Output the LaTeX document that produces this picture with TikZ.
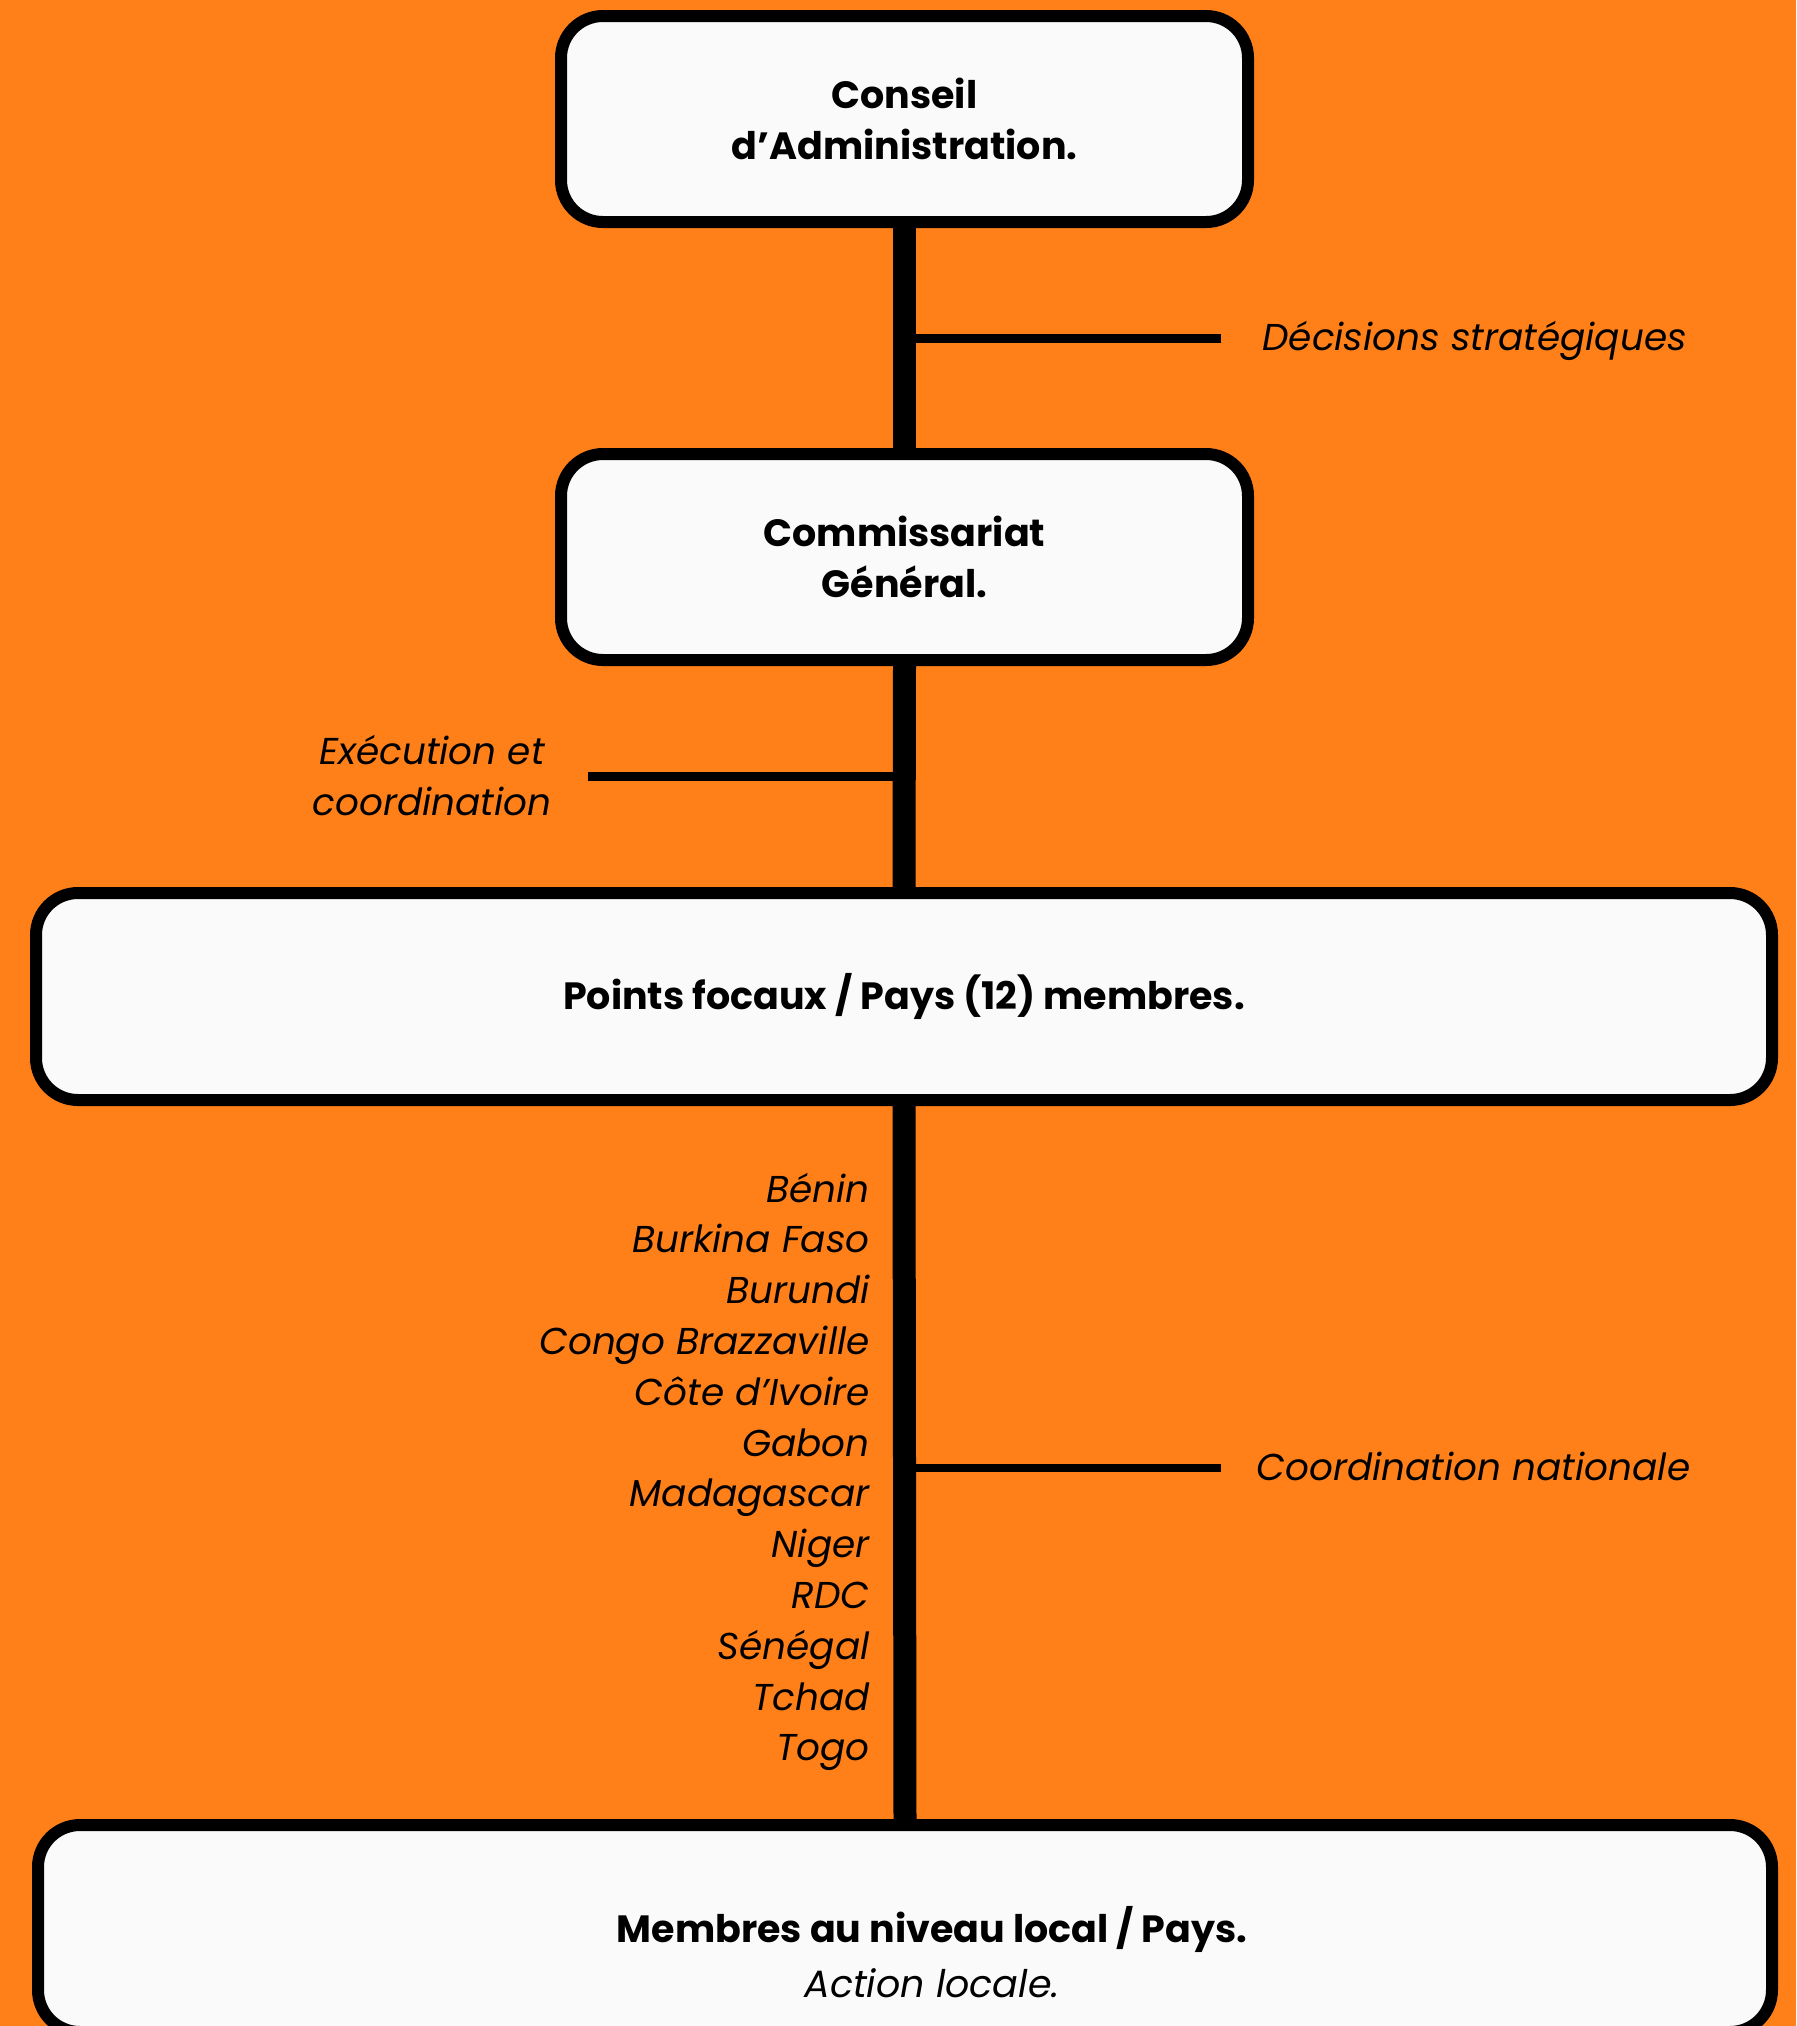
\documentclass[tikz,border=0pt]{standalone}
\usepackage{fontspec}
\setmainfont{Poppins}
\definecolor{bgorange}{RGB}{255,127,25}
\definecolor{boxwhite}{RGB}{250,250,250}
\begin{document}
\begin{tikzpicture}[x=0.5pt,y=-0.5pt,
  orgbox/.style={draw=black, fill=boxwhite, line width=6pt, rounded corners=21pt,
    inner sep=0pt, align=center, font=\fontsize{19}{25.5}\selectfont\bfseries},
  stem/.style={line width=11.5pt, black},
  branch/.style={line width=4.25pt, black},
  note/.style={inner sep=0pt, font=\fontsize{18.7}{25.4}\selectfont\itshape}
]
\fill[bgorange] (0,0) rectangle (1796,2026);
\useasboundingbox (0,0) rectangle (1796,2026);

\node[orgbox, minimum width=343.5pt, minimum height=103pt] (b1) at (904.5,119)
  {Conseil\\d’Administration.};
\node[orgbox, minimum width=343.5pt, minimum height=103pt] (b2) at (904.5,557)
  {Commissariat\\Général.};
\node[orgbox, minimum width=868pt, minimum height=103.5pt] (b3) at (904,996.5)
  {Points focaux / Pays (12) membres.};
\node[orgbox, minimum width=867pt, minimum height=103.5pt] (b4) at (905,1928.5) {};
\node[inner sep=0pt, align=center, font=\fontsize{19}{27.3}\selectfont] (b4t) at (932,1952)
  {\textbf{Membres au niveau local / Pays.}\\\textit{Action locale.}};

\draw[stem] (b1.south) -- (b2.north);
\draw[stem] (b2.south) -- (b3.north);
\draw[stem] (b3.south) -- (b4.north);

\coordinate (j1) at (904.5,338.5);
\coordinate (e1) at (1221,338.5);
\coordinate (j2) at (904.5,776.5);
\coordinate (e2) at (588,776.5);
\coordinate (j3) at (904.5,1468);
\coordinate (e3) at (1221,1468);
\draw[branch] (j1) -- (e1);
\draw[branch] (j2) -- (e2);
\draw[branch] (j3) -- (e3);

\node[note, anchor=base west] (t1) at (1262,350) {Décisions stratégiques};
\node[note, anchor=base west] (t3) at (1256,1480) {Coordination nationale};
\node[note, anchor=base] (t2a) at (432,764) {Exécution et};
\node[note, anchor=base] (t2b) at (432,815) {coordination};

\foreach \c [count=\i from 0] in {Bénin, Burkina Faso, Burundi, Congo Brazzaville,
  Côte d’Ivoire, Gabon, Madagascar, Niger, RDC, Sénégal, Tchad, Togo}
  \node[note, anchor=base east] (c\i) at (870,1202+50.8*\i) {\c};
\end{tikzpicture}
\end{document}
